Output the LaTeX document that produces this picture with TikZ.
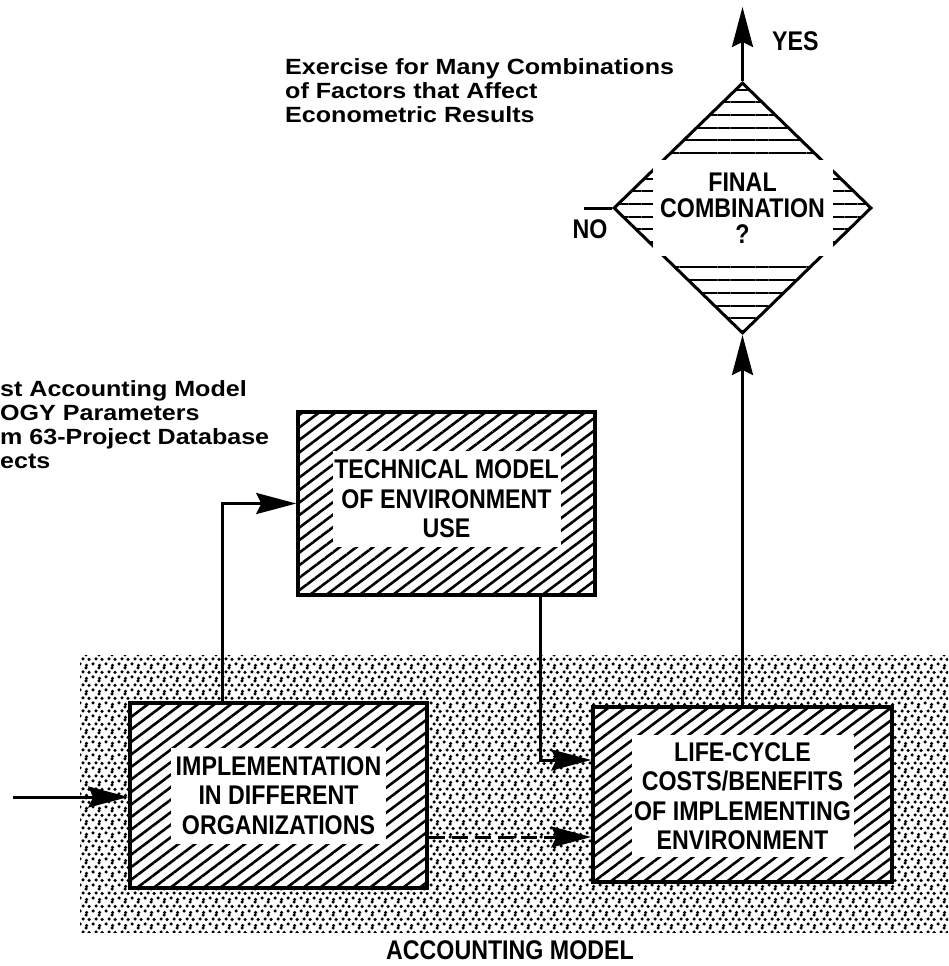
\documentclass[tikz,border=0pt]{standalone}
\usepackage{fontspec}
\setmainfont{Liberation Sans}
\newfontfamily\capsfont[FakeStretch=0.86]{Liberation Sans}
\newfontfamily\widefont[FakeStretch=1.14]{Liberation Sans}
\usetikzlibrary{arrows.meta,shapes.geometric,patterns,patterns.meta}

% coarse, uneven dot screen for the accounting area
\pgfdeclarepatternformonly{stipple}{\pgfqpoint{-2pt}{-2pt}}{\pgfqpoint{15pt}{15pt}}{\pgfqpoint{13pt}{13pt}}{%
  \pgfpathcircle{\pgfqpoint{2pt}{3pt}}{1.75pt}%
  \pgfpathcircle{\pgfqpoint{8.5pt}{1.5pt}}{1.75pt}%
  \pgfpathcircle{\pgfqpoint{5pt}{8pt}}{1.75pt}%
  \pgfpathcircle{\pgfqpoint{11pt}{7.5pt}}{1.75pt}%
  \pgfpathcircle{\pgfqpoint{8pt}{12pt}}{1.75pt}%
  \pgfusepath{fill}}

\begin{document}
\begin{tikzpicture}[x=1pt,y=-1pt]
                \tikzstyle{every node}+=[inner sep=0pt]
                \tikzstyle{hatchbox}=[draw, line width=3.5pt, fill=white,
                  postaction={pattern={Lines[angle=37,distance=10pt,line width=2.6pt]}}]
                \tikzstyle{boxtext}=[fill=white, align=center,
                  font=\capsfont\bfseries\fontsize{27}{29.5}\selectfont]
                \tikzstyle{note}=[align=left, font=\widefont\bfseries\fontsize{22}{24}\selectfont]
                \tikzstyle{flow}=[line width=3pt, -{Stealth[length=40pt,width=21pt,inset=5pt]}]
                \fill[white] (0,0) rectangle (948,966);
                \useasboundingbox (0,0) rectangle (948,966);
                % accounting model area
                \fill[pattern=stipple] (80,655) rectangle (948,932);
                \node[boxtext, fill=none] (acct) at (510,950) {ACCOUNTING MODEL};
                % free text
                \node[note, anchor=west] (exercise) at (285,91) {Exercise for Many Combinations\\of Factors that Affect\\Econometric Results};
                \node[note, anchor=west] (calib) at (0,425) {st Accounting Model\\OGY Parameters\\m 63-Project Database\\ects};
                % boxes
                \node[hatchbox, minimum width=297, minimum height=185] (impl) at (278.5,795.5) {};
                \node[boxtext, minimum width=215, minimum height=96] (impltext) at (impl) {IMPLEMENTATION\\IN DIFFERENT\\ORGANIZATIONS};
                \node[hatchbox, minimum width=297, minimum height=183] (tech) at (446.5,503.5) {};
                \node[boxtext, minimum width=228, minimum height=96] (techtext) at (446.5,499) {TECHNICAL MODEL\\OF ENVIRONMENT\\USE};
                \node[hatchbox, minimum width=299, minimum height=175] (life) at (742.5,794.5) {};
                \node[boxtext, minimum width=222, minimum height=122] (lifetext) at (742.5,796) {LIFE-CYCLE\\COSTS/BENEFITS\\OF IMPLEMENTING\\ENVIRONMENT};
                % decision
                \node[diamond, draw, line width=3pt, fill=white,
                  postaction={pattern={Lines[angle=0,distance=12.7pt,line width=2pt]}},
                  minimum width=258, minimum height=251] (final) at (742.5,208) {};
                \node[boxtext, minimum width=180, minimum height=96, font=\capsfont\bfseries\fontsize{27}{26}\selectfont] (finaltext) at (final) {FINAL\\COMBINATION\\?};
                \node[boxtext, fill=none, anchor=west] (yes) at (772,41) {YES};
                \node[boxtext, fill=none] (no) at (590,229) {NO};
                % connectors
                \coordinate (src) at (13,797);
                \coordinate (yestip) at (742.5,7);
                \coordinate (noend) at (584,208);
                \coordinate (dashstart) at ([yshift=-41.5pt]impl.east);
                \draw[flow] (src) -- (src -| impl.west);
                \draw[flow] ([xshift=-56.5pt]impl.north) |- (tech.west);
                \draw[flow] ([xshift=93.5pt]tech.south) |- ([yshift=34.5pt]life.west);
                \draw[flow, dash pattern=on 16pt off 7pt] (dashstart) -- (dashstart -| life.west);
                \draw[flow] (life.north) -- (final.south);
                \draw[flow] (final.north) -- (yestip);
                \draw[line width=3pt] (final.west) -- (noend);
\end{tikzpicture}
\end{document}
